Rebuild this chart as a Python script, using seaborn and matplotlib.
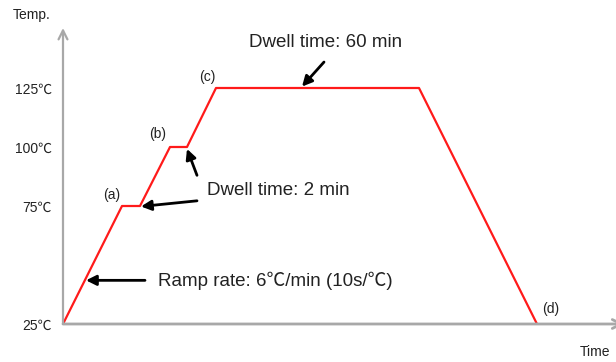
import matplotlib
matplotlib.use("Agg")
import matplotlib.pyplot as plt
import seaborn as sns
import pandas as pd

# Reflow / burn-in temperature profile (schematic time axis)
time_units = [0, 59, 77, 107, 124, 153, 356, 474]
temperature_c = [25, 75, 75, 100, 100, 125, 125, 25]
tick_temps = [25, 75, 100, 125]
tick_labels = ["25℃", "75℃", "100℃", "125℃"]
stage_labels = ["(a)", "(b)", "(c)", "(d)"]

profile = pd.DataFrame({"time": time_units, "temp": temperature_c})

sns.set_theme(style="white")
FONT = ["Liberation Sans", "Noto Sans CJK SC", "DejaVu Sans"]
plt.rcParams["font.family"] = FONT
TEXT = "#222222"
AXIS = "#a8a8a8"

fig = plt.figure(figsize=(6.16, 3.62), dpi=100)
W, H = 616, 362
x0, y0, y_top = 63, 324, 28
ax = fig.add_axes([x0 / W, (H - y0) / H, (W - x0) / W, (y0 - y_top) / H])

sns.lineplot(data=profile, x="time", y="temp", ax=ax, color="#ff1a1a",
             linewidth=1.6, sort=False, estimator=None)

ax.set_xlim(0, W - x0)
ax.set_ylim(25, 25 + (y0 - y_top) / 2.36)
for s in ax.spines.values():
    s.set_visible(False)
ax.set_xlabel("")
ax.set_ylabel("")
ax.set_xticks([])
ax.set_yticks(tick_temps)
ax.set_yticklabels(tick_labels, color=TEXT, fontsize=10)
ax.tick_params(axis="y", length=0, pad=8)

# Axes drawn as arrows
ax.annotate("", xy=(0, 1.0), xytext=(0, 0), xycoords="axes fraction",
            arrowprops=dict(arrowstyle="->", color=AXIS, lw=1.6,
                            mutation_scale=16, shrinkA=0, shrinkB=0),
            annotation_clip=False)
ax.annotate("", xy=(1.015, 0), xytext=(0, 0), xycoords="axes fraction",
            arrowprops=dict(arrowstyle="->", color=AXIS, lw=2.0,
                            mutation_scale=16, shrinkA=0, shrinkB=0),
            annotation_clip=False)

fig.text(32 / W, 1 - 15 / H, "Temp.", ha="center", va="center",
         fontsize=10, color=TEXT)
fig.text(595 / W, 1 - 352 / H, "Time", ha="center", va="center",
         fontsize=10, color=TEXT)

# Stage markers
stage_pos = [(49, 79.5), (95, 105.5), (144, 129.5), (488, 31.5)]
for lab, (sx, sy) in zip(stage_labels, stage_pos):
    ax.text(sx, sy, lab, ha="center", va="center", fontsize=10, color=TEXT)

arrow = dict(arrowstyle="-|>", color="black", lw=2.0, mutation_scale=15,
             shrinkA=0, shrinkB=0)

# Ramp rate
ax.annotate("", xy=(23, 43.5), xytext=(82, 43.5), arrowprops=arrow)
ax.text(95, 43.5, "Ramp rate: 6℃/min (10s/℃)", ha="left", va="center",
        fontsize=13.5, color=TEXT)

# Short dwells
ax.annotate("", xy=(124, 99.2), xytext=(134, 88.0), arrowprops=arrow)
ax.annotate("", xy=(78, 74.8), xytext=(134, 77.2), arrowprops=arrow)
ax.text(144, 81.5, "Dwell time: 2 min", ha="left", va="center",
        fontsize=13.5, color=TEXT)

# Long dwell
ax.annotate("", xy=(239, 125.6), xytext=(261, 136.0), arrowprops=arrow)
ax.text(263, 144.2, "Dwell time: 60 min", ha="center", va="center",
        fontsize=13.5, color=TEXT)

fig.savefig("out.png", dpi=100)
